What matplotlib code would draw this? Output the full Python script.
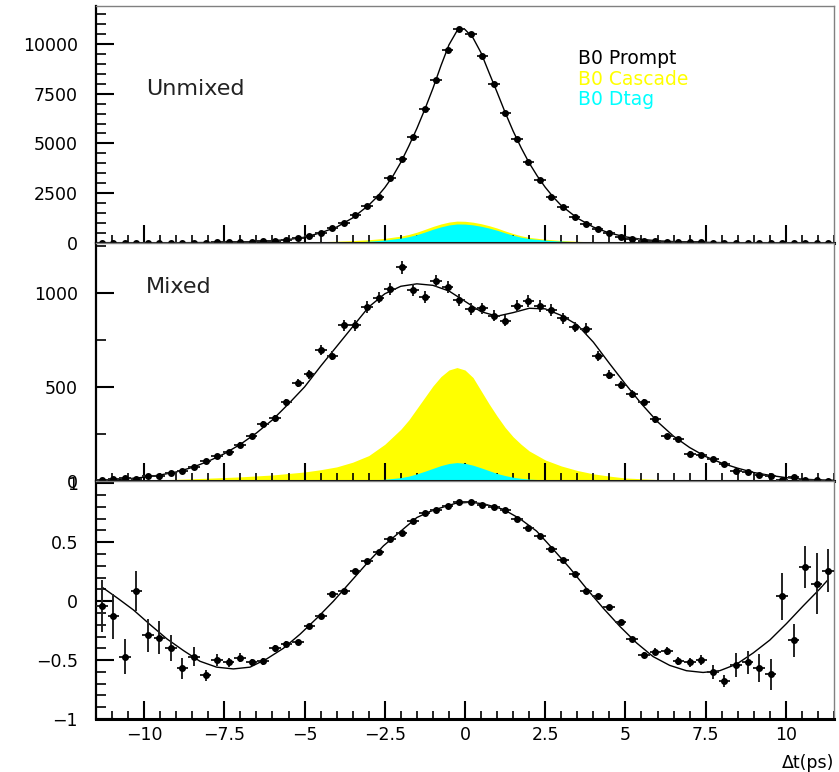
import numpy as np
import matplotlib.pyplot as plt
from matplotlib.ticker import MultipleLocator, FixedLocator, NullFormatter, FuncFormatter

# bins: 64 bins from -11.5 to 11.5 ps
edges = np.linspace(-11.5, 11.5, 65)
centers = 0.5 * (edges[:-1] + edges[1:])
half_w = 0.5 * (edges[1] - edges[0])

unmixed = [2, 3, 4, 5, 7, 9, 11, 14, 18, 24, 31, 40, 52, 68, 90, 120,
           170, 240, 370, 520, 740, 990, 1410, 1870, 2330, 3280, 4200, 5340,
           6750, 8190, 9700, 10750, 10470, 9410, 7970, 6520, 5210, 4070, 3170,
           2330, 1790, 1290, 940, 690, 520, 320, 220, 120, 100, 75, 55, 42, 32,
           25, 19, 15, 12, 9, 7, 5, 4, 3, 2, 2]

mixed = [4, 9, 17, 9, 25, 25, 41, 52, 73, 107, 133, 153, 192, 237, 302, 334,
         418, 520, 568, 694, 667, 827, 827, 925, 975, 1021, 1135, 1014,
         979, 1064, 1029, 961, 915, 917, 879, 851, 931, 956, 929, 908, 865,
         819, 810, 664, 566, 509, 463, 418, 329, 237, 221, 146, 139, 119, 91,
         53, 48, 30, 25, 5, 20, 5, 3, 2]

asym = [-0.04, -0.13, -0.47, 0.09, -0.29, -0.31, -0.40, -0.57, -0.47, -0.63,
        -0.50, -0.52, -0.48, -0.52, -0.51, -0.40, -0.36, -0.35, -0.21, -0.13,
        0.06, 0.09, 0.26, 0.34, 0.42, 0.53, 0.58, 0.68,
        0.75, 0.77, 0.81, 0.84, 0.84, 0.82, 0.80, 0.77, 0.70, 0.62, 0.55, 0.44,
        0.35, 0.23, 0.09, 0.04, -0.05, -0.18, -0.32, -0.46, -0.43, -0.42,
        -0.51, -0.52, -0.50, -0.60, -0.68, -0.54, -0.52, -0.57, -0.62, 0.04,
        -0.33, 0.29, 0.15, 0.26]

asym_err = [0.22, 0.19, 0.15, 0.17, 0.14, 0.14, 0.11, 0.09, 0.08, 0.05, 0.05,
            0.04, 0.04, 0.03, 0.03, 0.03, 0.02, 0.02, 0.02, 0.015, 0.015, 0.012,
            0.01, 0.01, 0.01, 0.01, 0.008, 0.008,
            0.008, 0.006, 0.006, 0.006, 0.006, 0.006, 0.006, 0.008, 0.008, 0.01,
            0.01, 0.01, 0.012, 0.012, 0.015, 0.015, 0.018, 0.02, 0.02, 0.025,
            0.03, 0.035, 0.035, 0.04, 0.04, 0.06, 0.05, 0.1, 0.1, 0.12, 0.13,
            0.2, 0.14, 0.18, 0.26, 0.18]

# fit curves
fit1_t = [-11.5, -10, -9, -8, -7, -6.5, -6, -5.5, -5, -4.5, -4, -3.5, -3,
          -2.75, -2.5, -2.25, -2, -1.75, -1.5, -1.25, -1, -0.75, -0.5, -0.25,
          -0.1, 0, 0.25, 0.5, 0.75, 1, 1.25, 1.5, 1.75, 2, 2.25, 2.5, 2.75, 3,
          3.5, 4, 4.5, 5, 5.5, 6, 6.5, 7, 8, 9, 10, 11.5]
fit1 = [2, 5, 12, 25, 52, 78, 115, 175, 290, 510, 800, 1260, 1900,
        2300, 2780, 3350, 4050, 4870, 5750, 6720, 7760, 8900, 9950, 10650,
        10760, 10720, 10300, 9550, 8550, 7570, 6560, 5620, 4780, 4020, 3370,
        2800, 2310, 1880, 1250, 800, 500, 310, 185, 110, 70, 45, 20, 10, 5, 2]

fit2_t = [-11.5, -11, -10.5, -10, -9.5, -9, -8.5, -8, -7.5, -7, -6.5, -6,
          -5.5, -5, -4.5, -4, -3.5, -3, -2.5, -2, -1.5, -1, -0.5, 0, 0.5, 1,
          1.5, 2, 2.5, 3, 3.5, 4, 4.5, 5, 5.5, 6, 6.5, 7, 7.5, 8, 8.5, 9, 9.5,
          10, 10.5, 11, 11.5]
fit2 = [3, 6, 12, 20, 32, 48, 72, 105, 145, 195, 255, 325, 410, 500, 610,
        715, 820, 925, 995, 1035, 1048, 1040, 1010, 955, 900, 876, 895, 918,
        915, 880, 830, 738, 625, 515, 410, 315, 238, 178, 130, 95, 68, 45,
        30, 18, 10, 6, 4]

fit3_t = [-11.29, -10.8, -10.33, -9.81, -9.29, -8.77, -8.26, -7.74, -7.22,
          -6.7, -6.18, -5.66, -5.14, -4.62, -4.1, -3.58, -3.06, -2.54, -2.02,
          -1.5, -1.1, -0.78, -0.3, 0.16, 0.6, 1.19, 1.71, 2.23, 2.75, 3.27,
          3.79, 4.31, 4.83, 5.35, 5.86, 6.38, 6.9, 7.42, 7.94, 8.46, 8.98,
          9.5, 10.02, 10.54, 11.06, 11.29]
fit3 = [0.115, 0.02, -0.075, -0.2, -0.32, -0.42, -0.51, -0.56, -0.575,
        -0.56, -0.49, -0.4, -0.28, -0.145, 0.0, 0.16, 0.32, 0.47, 0.59, 0.71,
        0.76, 0.79, 0.83, 0.84, 0.825, 0.78, 0.7, 0.595, 0.44, 0.28, 0.106,
        -0.06, -0.215, -0.355, -0.47, -0.545, -0.59, -0.605, -0.59, -0.535,
        -0.44, -0.33, -0.19, -0.04, 0.105, 0.175]

# background components (stacked: Dtag at bottom, Cascade on top)
bkg_t = [-11.5, -10, -9, -8, -7, -6, -5, -4.5, -4, -3.5, -3, -2.5, -2, -1.75,
         -1.5, -1.25, -1, -0.75, -0.5, -0.25, 0, 0.25, 0.5, 0.75, 1, 1.25,
         1.5, 1.75, 2, 2.5, 3, 3.5, 4, 4.5, 5, 6, 7, 8, 9, 10, 11.5]
dtag1 = [0, 1, 2, 3, 5, 8, 15, 22, 35, 55, 90, 150, 245, 320, 420, 550, 690,
         810, 905, 955, 950, 910, 840, 750, 640, 510, 390, 290, 220, 145, 95,
         62, 40, 27, 17, 8, 4, 2, 1, 0, 0]
casc1 = [2, 5, 8, 12, 18, 25, 35, 45, 55, 65, 75, 85, 100, 110, 125, 135, 140,
         145, 145, 145, 140, 135, 130, 120, 110, 95, 85, 72, 62, 45, 32, 24,
         18, 14, 10, 6, 4, 2, 1, 1, 0]
dtag2 = [0, 0, 0, 1, 1, 1, 2, 2, 3, 4, 5, 9, 18, 26, 38, 52, 67, 82, 93, 98,
         94, 84, 70, 55, 40, 29, 20, 14, 10, 6, 3, 2, 1, 1, 0, 0, 0, 0, 0, 0, 0]
casc2 = [2, 5, 9, 14, 21, 31, 46, 58, 72, 96, 130, 186, 257, 299, 347, 393,
         438, 473, 497, 505, 496, 466, 410, 355, 305, 256, 215, 181, 150, 106,
         77, 54, 37, 25, 16, 8, 4, 2, 1, 0, 0]

W, H = 839, 772
plt.rcParams['font.family'] = 'DejaVu Sans'
fig = plt.figure(figsize=(W / 100, H / 100), dpi=100)
L, R = 96 / W, 834 / W
rows = [(6, 243), (243, 481), (481, 719)]
axes = []
for top, bot in rows:
    ax = fig.add_axes([L, 1 - bot / H, R - L, (bot - top) / H])
    axes.append(ax)


def num_fmt(v, pos):
    return f'{v:g}'.replace('-', '\u2212')


def style(ax, labels_x):
    ax.set_xlim(-11.5, 11.5)
    ax.xaxis.set_major_locator(MultipleLocator(2.5))
    ax.xaxis.set_minor_locator(MultipleLocator(0.5))
    ax.tick_params(axis='both', which='both', direction='in', top=False,
                   right=False, labelsize=12.5, color='black')
    ax.tick_params(axis='x', which='major', length=13, width=1.5, pad=5)
    ax.tick_params(axis='x', which='minor', length=6, width=1.2)
    ax.tick_params(axis='y', which='major', length=13, width=1.5, pad=13)
    ax.tick_params(axis='y', which='minor', length=7, width=1.2)
    if labels_x:
        ax.xaxis.set_major_formatter(FuncFormatter(num_fmt))
    else:
        ax.xaxis.set_major_formatter(NullFormatter())
    ax.yaxis.set_major_formatter(FuncFormatter(num_fmt))
    for s in ('top', 'right'):
        ax.spines[s].set_color('#808080')
        ax.spines[s].set_linewidth(1)
    ax.spines['left'].set_linewidth(1.6)
    ax.spines['bottom'].set_linewidth(2.2)


def draw_points(ax, y, yerr):
    ax.errorbar(centers, y, xerr=half_w, yerr=yerr, fmt='o', ms=4,
                color='black', ecolor='#222222', elinewidth=1.4, capsize=0,
                zorder=5)


def fig_text(x, y, s, **kw):
    # x, y in pixels from the top-left corner, y is the baseline
    fig.text(x / W, 1 - y / H, s, va='baseline', **kw)


# panel 1: unmixed
ax = axes[0]
d1 = np.array(dtag1)
ax.fill_between(bkg_t, 0, d1 + np.array(casc1), color='#ffff00', lw=0, zorder=1)
ax.fill_between(bkg_t, 0, d1, color='#00ffff', lw=0, zorder=2)
ax.plot(fit1_t, fit1, color='black', lw=1.0, zorder=4)
draw_points(ax, unmixed, np.sqrt(unmixed))
ax.set_ylim(0, 11900)
ax.yaxis.set_major_locator(MultipleLocator(2500))
ax.yaxis.set_minor_locator(MultipleLocator(500))
style(ax, False)

# panel 2: mixed
ax = axes[1]
d2 = np.array(dtag2)
ax.fill_between(bkg_t, 0, d2 + np.array(casc2), color='#ffff00', lw=0, zorder=1)
ax.fill_between(bkg_t, 0, d2, color='#00ffff', lw=0, zorder=2)
ax.plot(fit2_t, fit2, color='black', lw=1.0, zorder=4)
draw_points(ax, mixed, np.sqrt(mixed))
ax.set_ylim(0, 1265)
ax.yaxis.set_major_locator(FixedLocator([0, 500, 1000]))
ax.yaxis.set_minor_locator(FixedLocator([250, 750, 1250]))
style(ax, False)

# panel 3: asymmetry
ax = axes[2]
ax.plot(fit3_t, fit3, color='black', lw=1.0, zorder=4)
draw_points(ax, asym, asym_err)
ax.set_ylim(-1, 1.02)
ax.yaxis.set_major_locator(FixedLocator([-1, -0.5, 0, 0.5, 1]))
ax.yaxis.set_minor_locator(MultipleLocator(0.1))
style(ax, True)

fig_text(146, 95, 'Unmixed', fontsize=16, color='#222222')
fig_text(146, 293, 'Mixed', fontsize=16, color='#222222')
fig_text(578, 64, 'B0 Prompt', fontsize=13.5, color='black')
fig_text(578, 85, 'B0 Cascade', fontsize=13.5, color='#ffff00')
fig_text(578, 105, 'B0 Dtag', fontsize=13.5, color='#00ffff')
fig.text(834 / W, 1 - 768 / H, '\u0394t(ps)', fontsize=12.5, ha='right',
         va='baseline')

fig.savefig('out.png', dpi=100)
